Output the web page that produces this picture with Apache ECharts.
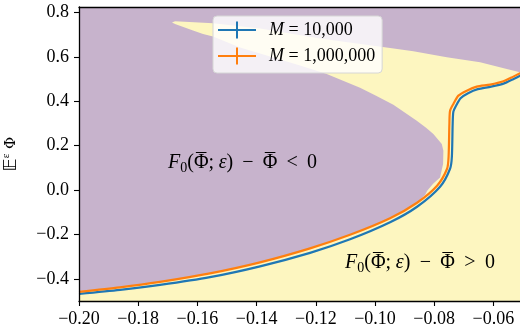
<!DOCTYPE html>
<html>
<head>
<meta charset="utf-8">
<script src="https://cdn.jsdelivr.net/npm/echarts@6/dist/echarts.min.js"></script>
<style>
  html, body { margin: 0; padding: 0; background: #fff; }
  #chart { width: 520px; height: 329px; }
</style>
</head>
<body>
<div id="chart"></div>
<script>
// axis ranges and tick values
const xMin = -0.2, xMax = -0.05;
const yMin = -0.5, yMax = 0.825;
const xTicks = [-0.20, -0.18, -0.16, -0.14, -0.12, -0.10, -0.08, -0.06];
const yTicks = [-0.4, -0.2, 0.0, 0.2, 0.4, 0.6, 0.8];

// M = 1,000,000 (orange)
const orangeX = [-0.2000, -0.18615, -0.17263, -0.15573, -0.13884, -0.12194, -0.10843, -0.09491, -0.08579, -0.07903,
  -0.07565, -0.07514, -0.07487, -0.07464, -0.07352, -0.07183, -0.06900, -0.06562, -0.06111, -0.05663, -0.05325, -0.05098, -0.04997];
const orangeY = [-0.4588, -0.4385, -0.4137, -0.3754, -0.3257, -0.2626, -0.2017, -0.1272, -0.0573, 0.0194,
  0.0961, 0.1502, 0.2991, 0.3578, 0.3880, 0.4255, 0.4480, 0.4661, 0.4751, 0.4900, 0.5112, 0.5261, 0.5337];

// M = 10,000 (blue)
const blueX = [-0.2000, -0.18615, -0.17263, -0.15573, -0.13884, -0.12194, -0.10843, -0.09491, -0.08579, -0.07802,
  -0.07464, -0.07403, -0.07376, -0.07352, -0.07261, -0.07109, -0.06856, -0.06528, -0.06078, -0.05639, -0.05301, -0.04997];
const blueY = [-0.4679, -0.4498, -0.4273, -0.3925, -0.3438, -0.2829, -0.2220, -0.1453, -0.0753, 0.0149,
  0.0961, 0.1502, 0.2991, 0.3533, 0.3803, 0.4142, 0.4367, 0.4548, 0.4661, 0.4809, 0.5021, 0.5224];

// outline of the F0 - Phi > 0 (yellow) region
const regionX = [-0.2000, -0.2000, -0.18615, -0.17263, -0.15573, -0.13884, -0.12194, -0.10843, -0.09491, -0.08579, -0.08304,
  -0.08236, -0.08037, -0.07802, -0.07700, -0.07690, -0.07744, -0.08028, -0.08275, -0.08589, -0.08984, -0.09380, -0.09964,
  -0.10505, -0.11079, -0.11630, -0.12532, -0.13546, -0.14560, -0.15472, -0.15810, -0.16148, -0.16756, -0.16858,
  -0.16756, -0.15472, -0.13884, -0.11856, -0.09491, -0.08704, -0.07575, -0.06450, -0.05548, -0.05098, -0.04997, -0.04997];
const regionY = [-0.5000, -0.4588, -0.4385, -0.4137, -0.3754, -0.3257, -0.2626, -0.2017, -0.1272, -0.0573, -0.0212,
  -0.0032, 0.0284, 0.0568, 0.1173, 0.1773, 0.2075, 0.2527, 0.2811, 0.3127, 0.3488, 0.3848, 0.4254,
  0.4616, 0.4931, 0.5234, 0.5608, 0.6014, 0.6420, 0.6916, 0.7038, 0.7187, 0.7489, 0.7548,
  0.7607, 0.7517, 0.7278, 0.6826, 0.6407, 0.6253, 0.5983, 0.5757, 0.5459, 0.5306, 0.5270, -0.5000];

const purple = '#c7b3cc';
const yellow = '#fdf6c0';
const serif = 'Liberation Serif';

const chart = echarts.init(document.getElementById('chart'));

function fmt(v, d) {
    const s = Math.abs(v).toFixed(d);
    return (v < -1e-9 ? '\u2212' : '') + s;
}

const plus = 'path://M0,7.5H18V0H20V7.5H38V9.5H20V17H18V9.5H0Z';

// caption "F0(Phi-bar; eps) - Phi-bar <> 0" built from pieces, bars drawn as lines
const measureCtx = document.createElement('canvas').getContext('2d');
function caption(left, right, midY, rel) {
    const big = '20px ' + serif, ital = 'italic 20px ' + serif, small = '14px ' + serif;
    const pieces = [
        {t: 'F', f: ital}, {t: '0', f: small, dy: 5}, {t: '(', f: big},
        {t: 'Φ', f: big, bar: true}, {t: ';', f: big}, {gap: 1},
        {t: 'ε', f: ital}, {t: ')', f: big}, {gap: 2}, {t: '\u2212', f: big}, {gap: 2},
        {t: 'Φ', f: big, bar: true}, {gap: 2}, {t: rel, f: big}, {gap: 2}, {t: '0', f: big}
    ];
    let natural = 0, gapUnits = 0;
    pieces.forEach(p => {
        if (p.gap) { gapUnits += p.gap; return; }
        measureCtx.font = p.f;
        p.w = measureCtx.measureText(p.t).width;
        natural += p.w;
    });
    const unit = Math.max(0, (right - left - natural) / gapUnits);
    const out = [];
    let x = left;
    pieces.forEach(p => {
        if (p.gap) { x += p.gap * unit; return; }
        out.push({
            type: 'text', x: x, y: midY + (p.dy || 0), z: 20,
            style: {text: p.t, font: p.f, fill: '#000', verticalAlign: 'middle', align: 'left'}
        });
        if (p.bar) {
            out.push({
                type: 'line', z: 20,
                shape: {x1: x + 2, y1: midY - 10.5, x2: x + p.w - 2, y2: midY - 10.5},
                style: {stroke: '#000', lineWidth: 1}
            });
        }
        x += p.w;
    });
    return out;
}

const option = {
    animation: false,
    backgroundColor: '#fff',
    textStyle: {fontFamily: serif},
    grid: {
        left: 79, top: 7, right: -3, bottom: 28,
        outerBoundsMode: 'none',
        containLabel: false,
        show: true,
        backgroundColor: purple,
        borderWidth: 0
    },
    xAxis: [{
        type: 'value', min: xMin, max: xMax, z: 10,
        axisLine: {show: true, onZero: false, lineStyle: {color: '#000', width: 1.3}},
        axisTick: {show: true, length: 5, customValues: xTicks, lineStyle: {color: '#000', width: 1.1}},
        axisLabel: {
            customValues: xTicks, margin: 9, color: '#000',
            fontFamily: serif, fontSize: 18,
            formatter: v => fmt(v, 2)
        },
        splitLine: {show: false}
    }, {
        type: 'value', position: 'top', min: xMin, max: xMax, z: 10,
        axisLine: {show: true, onZero: false, lineStyle: {color: '#000', width: 1.3}},
        axisTick: {show: false}, axisLabel: {show: false}, splitLine: {show: false}
    }],
    yAxis: {
        type: 'value', min: yMin, max: yMax, z: 10,
        axisLine: {show: true, onZero: false, lineStyle: {color: '#000', width: 1.3}},
        axisTick: {show: true, length: 5, customValues: yTicks, lineStyle: {color: '#000', width: 1.1}},
        axisLabel: {
            customValues: yTicks, margin: 10, color: '#000',
            fontFamily: serif, fontSize: 18,
            formatter: v => fmt(v, 1)
        },
        splitLine: {show: false},
        name: '{b|𝔼}{s|ε}{t| Φ}',
        nameLocation: 'middle',
        nameGap: 58,
        nameTextStyle: {
            color: '#000',
            rich: {
                b: {fontFamily: 'DejaVu Sans', fontSize: 18, color: '#000'},
                s: {fontFamily: serif, fontSize: 11, color: '#000', padding: [0, 0, 9, 0]},
                t: {fontFamily: 'DejaVu Serif', fontSize: 15, color: '#000'}
            }
        }
    },
    legend: {
        orient: 'vertical',
        left: 213, top: 16,
        padding: [5, 7, 8, 5],
        itemWidth: 38, itemHeight: 17, itemGap: 8,
        backgroundColor: 'rgba(255,255,255,0.8)',
        borderColor: '#d6d6d6', borderWidth: 1, borderRadius: 4,
        data: [{name: 'M = 10,000', icon: plus}, {name: 'M = 1,000,000', icon: plus}],
        formatter: name => name.replace('M', '{i|M}'),
        textStyle: {
            fontFamily: serif, fontSize: 18, color: '#000', padding: [0, 0, 0, 8],
            rich: {i: {fontFamily: serif, fontSize: 18, fontStyle: 'italic', color: '#000'}}
        }
    },
    graphic: caption(168, 317, 163, '<').concat(caption(345, 495, 263, '>')),
    series: [{
        type: 'custom',
        name: 'region',
        silent: true,
        z: 1,
        data: [[xMin, yMin]],
        renderItem: function (params, api) {
            const pts = regionX.map((x, i) => api.coord([x, regionY[i]]));
            return {type: 'polygon', shape: {points: pts}, style: {fill: yellow}};
        }
    }, {
        type: 'line',
        name: 'M = 10,000',
        data: blueX.map((x, i) => [x, blueY[i]]),
        showSymbol: false,
        smooth: 0.25,
        color: '#1f77b4',
        itemStyle: {color: '#1f77b4'},
        lineStyle: {color: '#1f77b4', width: 2.2},
        z: 3
    }, {
        type: 'line',
        name: 'M = 1,000,000',
        data: orangeX.map((x, i) => [x, orangeY[i]]),
        showSymbol: false,
        smooth: 0.25,
        color: '#ff7f0e',
        itemStyle: {color: '#ff7f0e'},
        lineStyle: {color: '#ff7f0e', width: 2.2},
        z: 4
    }]
};

chart.setOption(option);
</script>
</body>
</html>
